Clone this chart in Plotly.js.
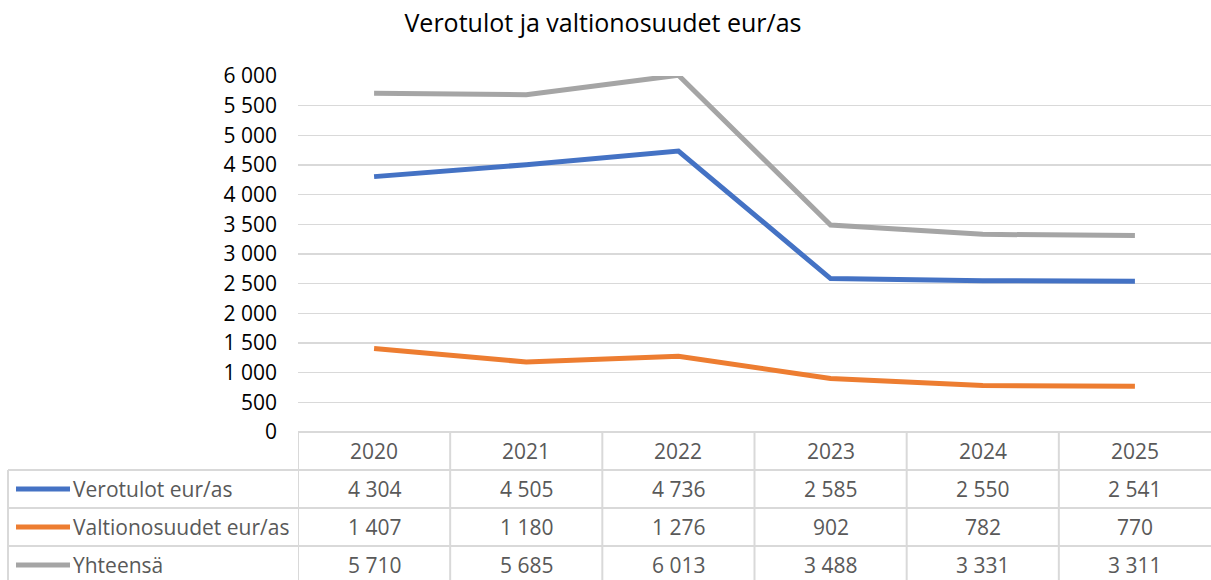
<!DOCTYPE html>
<html>
<head>
<meta charset="utf-8">
<script src="https://cdn.plot.ly/plotly-3.0.1.min.js"></script>
<style>html,body{margin:0;padding:0;background:#fff}#chart{width:1211px;height:580px}</style>
</head>
<body>
<div id="chart"></div>
<script>
const years = ['2020', '2021', '2022', '2023', '2024', '2025'];
const verotulot = [4304, 4505, 4736, 2585, 2550, 2541];
const valtionosuudet = [1407, 1180, 1276, 902, 782, 770];
const yhteensa = [5710, 5685, 6013, 3488, 3331, 3311];
const seriesNames = ['Verotulot eur/as', 'Valtionosuudet eur/as', 'Yhteensä'];
const seriesColors = ['#4472C4', '#ED7D31', '#A5A5A5'];
const yTicks = [0, 500, 1000, 1500, 2000, 2500, 3000, 3500, 4000, 4500, 5000, 5500, 6000];

const FONT = 'Open Sans, Noto Sans, sans-serif';
const W = 1211, H = 580;
const L = 298, R = 0, T = 76, B = 148;
const pw = W - L - R, ph = H - T - B;
const px = x => (x - L) / pw;
const py = y => (H - B - y) / ph;

function fmt(n) {
  return String(n).replace(/\B(?=(\d{3})+(?!\d))/g, ' ');
}

const allSeries = [verotulot, valtionosuudet, yhteensa];
const traces = allSeries.map((vals, i) => ({
  type: 'scatter', mode: 'lines', x: years, y: vals, name: seriesNames[i],
  line: {color: seriesColors[i], width: 5}, showlegend: false, hoverinfo: 'x+y'
}));

const gridC = '#d9d9d9';
const shapes = [];
shapes.push({type: 'line', xref: 'paper', yref: 'paper', x0: 0, x1: 1, y0: 0, y1: 0, line: {color: gridC, width: 2}});
[470, 508, 546].forEach(y => shapes.push({type: 'line', xref: 'paper', yref: 'paper', x0: px(8), x1: 1, y0: py(y), y1: py(y), line: {color: gridC, width: 2}}));
shapes.push({type: 'line', xref: 'paper', yref: 'paper', x0: px(8), x1: px(8), y0: py(470), y1: py(582), line: {color: gridC, width: 2}});
for (let i = 0; i < years.length; i++) {
  shapes.push({type: 'line', xref: 'x', yref: 'paper', x0: i - 0.5, x1: i - 0.5, y0: 0, y1: py(582), line: {color: gridC, width: 2}});
}
const rowY = [489, 527, 565];
rowY.forEach((y, i) => shapes.push({type: 'line', xref: 'paper', yref: 'paper', x0: px(16), x1: px(70), y0: py(y), y1: py(y), line: {color: seriesColors[i], width: 5}}));

const annotations = [];
const tf = {family: FONT, size: 21, color: '#595959'};
years.forEach((yr, j) => annotations.push({xref: 'x', yref: 'paper', x: j, y: py(451), text: yr, showarrow: false, xanchor: 'center', yanchor: 'middle', font: tf}));
allSeries.forEach((vals, i) => {
  annotations.push({xref: 'paper', yref: 'paper', x: px(71), y: py(rowY[i]), text: seriesNames[i], showarrow: false, xanchor: 'left', yanchor: 'middle', font: tf});
  vals.forEach((v, j) => annotations.push({xref: 'x', yref: 'paper', x: j, y: py(rowY[i]), text: fmt(v), showarrow: false, xanchor: 'center', yanchor: 'middle', font: tf}));
});

const layout = {
  width: W, height: H,
  margin: {l: L, r: R, t: T, b: B},
  paper_bgcolor: '#fff', plot_bgcolor: '#fff',
  separators: ', ',
  title: {text: 'Verotulot ja valtionosuudet eur/as', font: {family: FONT, size: 25, color: '#000'}, x: 603 / W, xref: 'container', xanchor: 'center', y: 1 - 23 / H, yref: 'container', yanchor: 'middle'},
  xaxis: {type: 'category', range: [-0.5, 5.5], showticklabels: false, showgrid: false, zeroline: false, showline: false, ticks: ''},
  yaxis: {range: [0, 6000], tickvals: yTicks, tickformat: ',d', showgrid: true, gridcolor: gridC, gridwidth: 1.5,
          zeroline: false, showline: false, ticks: '', ticklabelstandoff: 20,
          tickfont: {family: FONT, size: 21, color: '#000'}},
  shapes: shapes,
  annotations: annotations,
  showlegend: false
};

Plotly.newPlot('chart', traces, layout, {displayModeBar: false, staticPlot: true});
</script>
</body>
</html>
